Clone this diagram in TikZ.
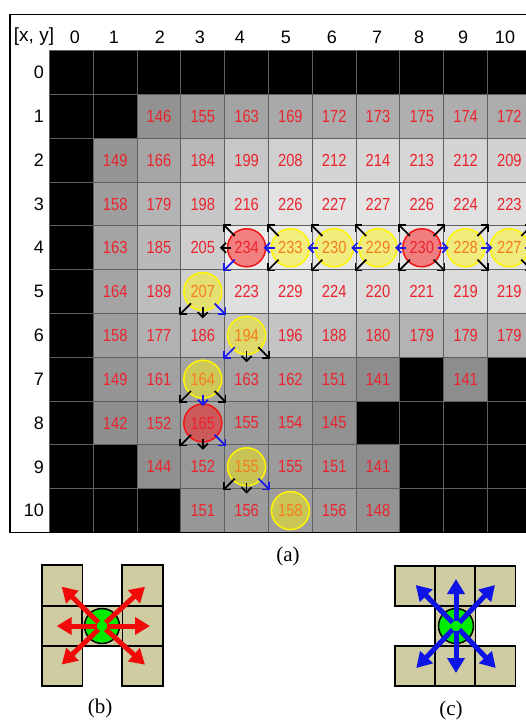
\documentclass[tikz,border=0pt]{standalone}
\usepackage{fontspec}
\setmainfont{Liberation Serif}
\newfontfamily\arialf{Liberation Sans}
\newfontfamily\narrowf[FakeStretch=0.84]{Liberation Sans}
\usetikzlibrary{arrows.meta,calc}
\definecolor{gridline}{RGB}{95,95,95}
\definecolor{numred}{RGB}{235,35,45}
\definecolor{numorange}{RGB}{245,125,30}
\definecolor{khakic}{RGB}{206,204,160}
\definecolor{greenc}{RGB}{0,235,0}
\definecolor{arrblue}{RGB}{25,25,235}
\definecolor{bigred}{RGB}{240,10,10}
\definecolor{bigblue}{RGB}{15,20,230}
\definecolor{ycol}{RGB}{255,245,0}
\definecolor{rcol}{RGB}{240,20,20}
\newcommand\dar[4]{\draw[garrow,#4,shorten <=-3pt] (#1.#2) -- ++(#3);}
\newcommand\car[4]{\draw[garrow,#4,shorten <=-4pt] (#1.#2) -- ++(#3);}
\begin{document}
\begin{tikzpicture}[x=1pt,y=-1pt,
  cellbox/.style={draw=gridline, line width=1.1pt, minimum width=43.8pt, minimum height=43.8pt, inner sep=0pt, outer sep=0pt},
  numtext/.style={font=\narrowf\fontsize{17.5}{19}\selectfont, text=numred},
  circbase/.style={circle, minimum size=38pt, inner sep=0pt, line width=1.5pt, fill opacity=0.45, text opacity=1, font=\narrowf\fontsize{17.5}{19}\selectfont},
  ycirc/.style={circbase, draw=ycol, fill=ycol, text=numorange},
  rcirc/.style={circbase, draw=rcol, fill=red, text=numred},
  garrow/.style={line width=1.7pt, -{Straight Barb[length=5pt,width=10pt]}},
  hdr/.style={font=\arialf\fontsize{18}{20}\selectfont, inner sep=0pt},
  bcell/.style={draw=black, line width=1.6pt, fill=khakic, minimum width=40.5pt, minimum height=40.3pt, inner sep=0pt},
  gcirc/.style={circle, draw=black, line width=1.5pt, fill=greenc, minimum size=35pt, inner sep=0pt},
  bigarr/.style={line width=5pt, -{Triangle[length=15pt,width=17pt]}, shorten <=5pt},
  lab/.style={font=\fontsize{21}{24}\selectfont, inner sep=0pt}]
\useasboundingbox (0,0) rectangle (526,722);
\clip (0,0) rectangle (526,722);
\fill[white] (0,0) rectangle (526,722);

% grid cells
\foreach \row [count=\y from 0] in {
 {0/0,0/0,0/0,0/0,0/0,0/0,0/0,0/0,0/0,0/0,0/0},
 {0/0,0/0,146/0,155/0,163/0,169/0,172/0,173/0,175/0,174/0,172/0},
 {0/0,149/0,166/0,184/0,199/0,208/0,212/0,214/0,213/0,212/0,209/0},
 {0/0,158/0,179/0,198/0,216/0,226/0,227/0,227/0,226/0,224/0,223/0},
 {0/0,163/0,185/0,205/0,234/2,233/1,230/1,229/1,230/2,228/1,227/1},
 {0/0,164/0,189/0,207/1,223/0,229/0,224/0,220/0,221/0,219/0,219/0},
 {0/0,158/0,177/0,186/0,194/1,196/0,188/0,180/0,179/0,179/0,179/0},
 {0/0,149/0,161/0,164/1,163/0,162/0,151/0,141/0,0/0,141/0,0/0},
 {0/0,142/0,152/0,165/2,155/0,154/0,145/0,0/0,0/0,0/0,0/0},
 {0/0,0/0,144/0,152/0,155/1,155/0,151/0,141/0,0/0,0/0,0/0},
 {0/0,0/0,0/0,151/0,156/0,158/1,156/0,148/0,0/0,0/0,0/0}} {
  \foreach \v/\t [count=\x from 0] in \row {
    \ifnum\v=0
      \node[cellbox, fill=black] (c-\x-\y) at ({71.4+43.8*\x},{72.6+43.8*\y}) {};
    \else
      \definecolor{cellc}{RGB}{\v,\v,\v}
      \ifnum\t=0
        \node[cellbox, fill=cellc, numtext] (c-\x-\y) at ({71.4+43.8*\x},{72.6+43.8*\y}) {\v};
      \else
        \node[cellbox, fill=cellc] (c-\x-\y) at ({71.4+43.8*\x},{72.6+43.8*\y}) {};
      \fi
    \fi
  }
}

% frame
\draw[line width=1.8pt] (540,14.5) -- (10,14.5) -- (10,532.5) -- (540,532.5);

% header
\node[hdr, font=\arialf\fontsize{19}{21}\selectfont] (hxy) at (34,37) {[x, y]};
\foreach \lx [count=\i from 0] in {75,114,160,200,240,286,332,377,419,463,505} {
  \node[hdr] (col-\i) at (\lx,37) {\i};
}
\foreach \i in {0,...,10} {
  \node[hdr, anchor=east] (row-\i) at (44,{72.6+43.8*\i}) {\i};
}

% circles
\node[rcirc] (p-4-4) at (c-4-4) {234};
\node[ycirc] (p-5-4) at (c-5-4) {233};
\node[ycirc] (p-6-4) at (c-6-4) {230};
\node[ycirc] (p-7-4) at (c-7-4) {229};
\node[rcirc] (p-8-4) at (c-8-4) {230};
\node[ycirc] (p-9-4) at (c-9-4) {228};
\node[ycirc] (p-10-4) at (c-10-4) {227};
\node[ycirc] (p-3-5) at (c-3-5) {207};
\node[ycirc] (p-4-6) at (c-4-6) {194};
\node[ycirc] (p-3-7) at (c-3-7) {164};
\node[rcirc] (p-3-8) at (c-3-8) {165};
\node[ycirc] (p-4-9) at (c-4-9) {155};
\node[ycirc] (p-5-10) at (c-5-10) {158};

% arrows
\dar{p-4-4}{north west}{-9.5,-9.5}{black}
\car{p-4-4}{west}{-7,0}{black}
\dar{p-4-4}{south west}{-9.5,9.5}{arrblue}
\foreach \n in {p-5-4,p-6-4,p-7-4,p-8-4} {
  \dar{\n}{north west}{-9.5,-9.5}{black}
  \car{\n}{west}{-7,0}{arrblue}
  \dar{\n}{south west}{-9.5,9.5}{black}
}
\foreach \n in {p-8-4,p-9-4,p-10-4} {
  \dar{\n}{north east}{9.5,-9.5}{black}
  \car{\n}{east}{7,0}{arrblue}
  \dar{\n}{south east}{9.5,9.5}{black}
}
\dar{p-3-5}{south west}{-9.5,9.5}{black}
\car{p-3-5}{south}{0,7}{black}
\dar{p-3-5}{south east}{9.5,9.5}{arrblue}
\dar{p-4-6}{south west}{-9.5,9.5}{arrblue}
\car{p-4-6}{south}{0,7}{black}
\dar{p-4-6}{south east}{9.5,9.5}{black}
\dar{p-3-7}{south west}{-9.5,9.5}{black}
\car{p-3-7}{south}{0,7}{arrblue}
\dar{p-3-7}{south east}{9.5,9.5}{black}
\dar{p-3-8}{south west}{-9.5,9.5}{black}
\car{p-3-8}{south}{0,7}{black}
\dar{p-3-8}{south east}{9.5,9.5}{arrblue}
\dar{p-4-9}{south west}{-9.5,9.5}{black}
\car{p-4-9}{south}{0,7}{black}
\dar{p-4-9}{south east}{9.5,9.5}{arrblue}

% labels
\node[lab] (la) at (288,556) {(a)};
\node[lab] (lb) at (100,708) {(b)};
\node[lab] (lc) at (451,710) {(c)};

% (b)
\node[bcell] (b-l1) at (62.2,585.4) {};
\node[bcell] (b-l2) at (62.2,625.9) {};
\node[bcell] (b-l3) at (62.2,666.1) {};
\node[bcell] (b-r1) at (142.5,585.4) {};
\node[bcell] (b-r2) at (142.5,625.9) {};
\node[bcell] (b-r3) at (142.5,666.1) {};
\node[bcell] (b-m) at (102.4,625.9) {};
\node[gcirc] (gb) at (102,626) {};
\coordinate (b-nw) at (61.7,586.7);
\coordinate (b-w) at (56.7,626);
\coordinate (b-sw) at (61.7,664.5);
\coordinate (b-ne) at (145,586.7);
\coordinate (b-e) at (150,626);
\coordinate (b-se) at (145,664.7);
\foreach \t in {b-nw,b-w,b-sw,b-ne,b-e,b-se} {
  \draw[bigarr, draw=bigred, fill=bigred] (gb.center) -- (\t);
}

% (c)
\node[bcell] (c-t1) at (415,585.9) {};
\node[bcell] (c-t2) at (455.3,585.9) {};
\node[bcell] (c-t3) at (495.3,585.9) {};
\node[bcell] (c-b1) at (415,666) {};
\node[bcell] (c-b2) at (455.3,666) {};
\node[bcell] (c-b3) at (495.3,666) {};
\node[bcell] (c-m) at (455.3,625.9) {};
\node[gcirc] (gc) at (456,626) {};
\coordinate (c-n) at (456,579);
\coordinate (c-nw) at (415.7,585);
\coordinate (c-ne) at (495,585);
\coordinate (c-s) at (456,673);
\coordinate (c-sw) at (416.3,668);
\coordinate (c-se) at (495.7,668);
\foreach \t in {c-n,c-nw,c-ne,c-s,c-sw,c-se} {
  \draw[bigarr, draw=bigblue, fill=bigblue] (gc.center) -- (\t);
}
\end{tikzpicture}
\end{document}
